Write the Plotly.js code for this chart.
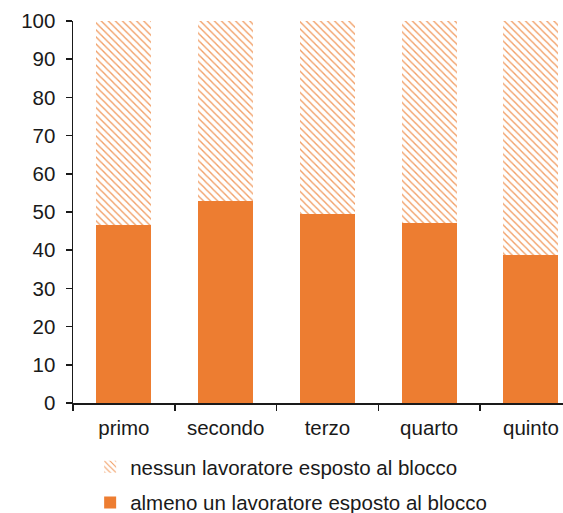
<!DOCTYPE html>
<html>
<head>
<meta charset="utf-8">
<script src="https://cdn.plot.ly/plotly-3.0.1.min.js"></script>
<style>
  html, body { margin: 0; padding: 0; background: #ffffff; }
  #chart { width: 563px; height: 513px; }
</style>
</head>
<body>
<div id="chart"></div>
<script>
// Quintiles and share (%) of households by exposure to the lockdown
const categories = ['primo', 'secondo', 'terzo', 'quarto', 'quinto'];
const almenoUno = [46.6, 52.9, 49.6, 47.0, 38.8];
const nessuno = almenoUno.map(v => +(100 - v).toFixed(1));
const yTicks = [0, 10, 20, 30, 40, 50, 60, 70, 80, 90, 100];

const orange = '#ED7D31';
const textFont = { family: 'Liberation Sans, Arial, sans-serif', size: 20.5, color: '#1a1a1a' };

const traces = [
  {
    type: 'bar',
    name: 'almeno un lavoratore esposto al blocco',
    x: categories,
    y: almenoUno,
    width: 0.54,
    marker: { color: orange, line: { width: 0 } },
    legendgroup: 'a',
    legendrank: 2,
    hoverinfo: 'x+y'
  },
  {
    type: 'bar',
    name: 'nessun lavoratore esposto al blocco',
    x: categories,
    y: nessuno,
    width: 0.54,
    marker: {
      color: '#ffffff',
      line: { width: 0 },
      pattern: { shape: '\\', fgcolor: orange, fgopacity: 0.75, bgcolor: '#ffffff', size: 5, solidity: 0.28 }
    },
    legendgroup: 'b',
    legendrank: 1,
    hoverinfo: 'x+y'
  }
];

const layout = {
  width: 563,
  height: 513,
  margin: { l: 73, r: 0, t: 21, b: 110, autoexpand: false },
  paper_bgcolor: '#ffffff',
  plot_bgcolor: '#ffffff',
  barmode: 'stack',
  font: textFont,
  showlegend: true,
  legend: {
    orientation: 'v',
    x: 0.035,
    xanchor: 'left',
    y: -0.115,
    yanchor: 'top',
    traceorder: 'grouped',
    tracegroupgap: 6,
    font: textFont,
    itemwidth: 30,
    bgcolor: 'rgba(0,0,0,0)'
  },
  xaxis: {
    type: 'category',
    range: [-0.5, 4.315],
    showline: true,
    linecolor: '#1a1a1a',
    linewidth: 1.5,
    ticks: 'outside',
    tickson: 'boundaries',
    ticklen: 6,
    tickwidth: 1.5,
    tickcolor: '#1a1a1a',
    showgrid: false,
    zeroline: false,
    tickfont: textFont,
    ticklabelstandoff: 6
  },
  yaxis: {
    range: [0, 100],
    tickvals: yTicks,
    ticktext: yTicks.map(String),
    showline: true,
    linecolor: '#1a1a1a',
    linewidth: 1.5,
    ticks: 'outside',
    ticklen: 6,
    tickwidth: 1.5,
    tickcolor: '#1a1a1a',
    showgrid: false,
    zeroline: false,
    tickfont: textFont,
    ticklabelstandoff: 6
  }
};

Plotly.newPlot('chart', traces, layout, { displayModeBar: false, staticPlot: true });
</script>
</body>
</html>
